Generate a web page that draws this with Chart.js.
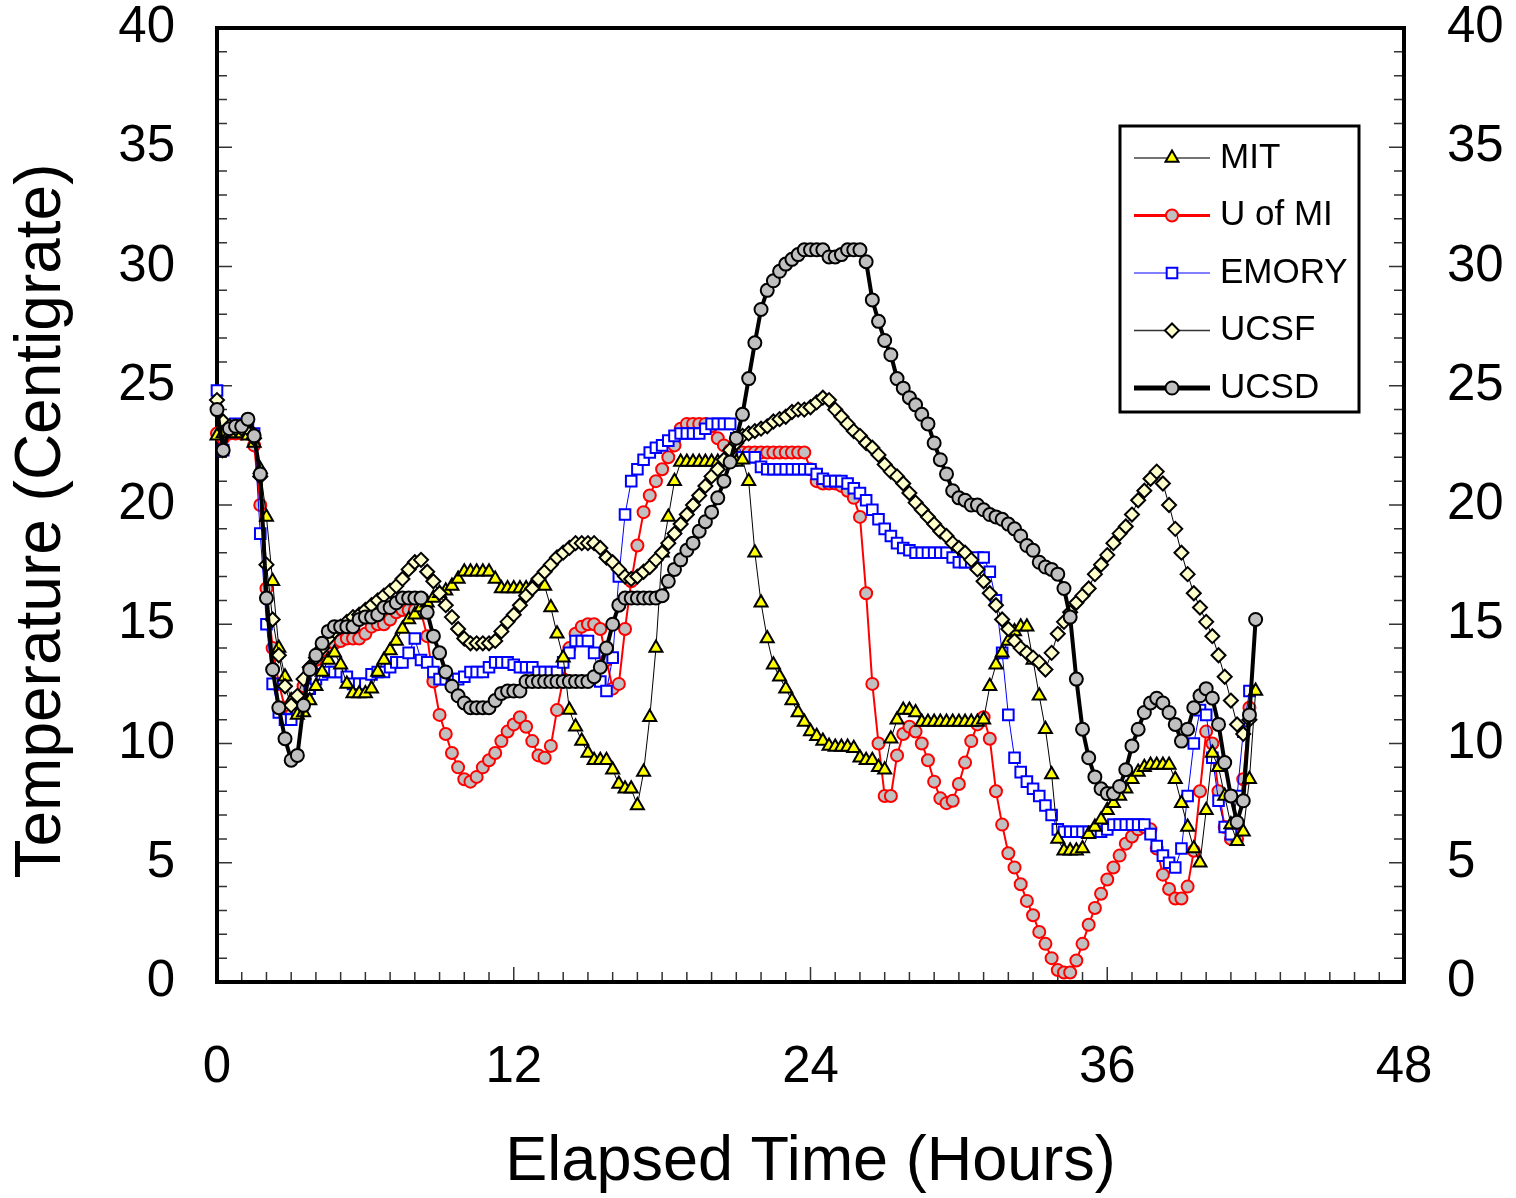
<!DOCTYPE html>
<html>
<head>
<meta charset="utf-8">
<title>Temperature</title>
<script src="https://cdn.jsdelivr.net/npm/chart.js@4/dist/chart.umd.min.js"></script>
<style>
  body { margin: 0; background: #fff; }
</style>
</head>
<body>
<canvas id="myChart" width="1516" height="1198"></canvas>
<script>
// readings every quarter hour, starting at 0 h
const STEP = 0.25;

const xTicks = [0, 12, 24, 36, 48];
const yTicks = [0, 5, 10, 15, 20, 25, 30, 35, 40];

const mit = [
  22.9, 23.0, 23.0, 23.0,  23.0, 22.9, 22.6, 21.5,  19.5, 16.8, 14.0, 12.8,
  11.8, 11.2, 11.3, 11.8,  12.4, 13.0, 13.5, 13.8,  13.3, 12.5, 12.1, 12.1,
  12.1, 12.3, 13.0, 13.5,  13.9, 14.3, 14.8, 15.2,  15.4, 15.7, 15.9, 16.1,
  16.3, 16.4, 16.6, 16.9,  17.2, 17.2, 17.2, 17.2,  17.2, 16.9, 16.5, 16.5,
  16.5, 16.5, 16.5, 16.6,  16.8, 16.6, 15.7, 14.6,  13.6, 11.4, 10.7, 10.1,
  9.6, 9.3, 9.3, 9.3,      8.9, 8.3, 8.1, 8.1,      7.4, 8.8, 11.1, 14.0,
  18.0, 19.5, 21.0, 21.8,  21.8, 21.8, 21.8, 21.8,  21.8, 21.8, 21.8, 21.8,
  21.8, 21.9, 21.0, 18.0,  15.9, 14.4, 13.3, 12.8,  12.3, 11.8, 11.3, 10.9,
  10.5, 10.3, 10.1, 9.9,   9.85, 9.85, 9.85, 9.8,   9.4, 9.3, 9.3, 9.0,
  8.9, 10.2, 11.0, 11.4,   11.4, 11.3, 10.9, 10.9,  10.9, 10.9, 10.9, 10.9,
  10.9, 10.9, 10.9, 10.9,  11.0, 12.4, 13.3, 13.8,  14.3, 14.7, 14.9, 14.9,
  13.5, 12.0, 10.6, 8.7,   6.0, 5.5, 5.5, 5.5,      5.6, 6.2, 6.5, 6.8,
  7.2, 7.5, 7.8, 8.1,      8.5, 8.8, 9.0, 9.1,      9.1, 9.1, 9.1, 8.5,
  7.5, 6.5, 5.6, 5.0,      7.2, 9.6, 9.0, 7.8,      6.6, 5.9, 6.3, 8.5,
  12.2
];

const uOfMi = [
  23.0, 22.8, 23.0, 23.0,  23.0, 23.0, 22.5, 20.0,  16.5, 14.0, 12.5, 11.5,
  11.2, 11.6, 12.4, 13.0,  13.5, 13.9, 14.1, 14.2,  14.3, 14.4, 14.4, 14.4,
  14.6, 14.9, 15.0, 15.0,  15.2, 15.5, 15.6, 15.6,  15.6, 15.5, 14.5, 12.6,
  11.2, 10.4, 9.6, 9.0,    8.5, 8.4, 8.6, 9.0,      9.3, 9.6, 10.1, 10.5,
  10.8, 11.1, 10.7, 10.1,  9.5, 9.4, 9.9, 11.4,     12.7, 14.0, 14.6, 14.9,
  15.0, 15.0, 14.8, 13.5,  12.3, 12.5, 14.8, 16.8,  18.3, 19.7, 20.4, 21.0,
  21.5, 22.0, 22.5, 23.2,  23.4, 23.4, 23.4, 23.4,  23.3, 22.8, 22.5, 22.3,
  22.2, 22.2, 22.2, 22.2,  22.2, 22.2, 22.2, 22.2,  22.2, 22.2, 22.2, 22.2,
  21.5, 21.0, 20.9, 20.9,  20.9, 20.8, 20.6, 20.3,  19.5, 16.3, 12.5, 10.0,
  7.8, 7.8, 9.5, 10.4,     10.7, 10.5, 10.0, 9.3,   8.4, 7.7, 7.5, 7.6,
  8.3, 9.2, 10.1, 10.8,    11.1, 10.2, 8.0, 6.6,    5.4, 4.8, 4.1, 3.4,
  2.8, 2.1, 1.6, 1.0,      0.5, 0.4, 0.4, 0.9,      1.6, 2.4, 3.1, 3.7,
  4.3, 4.8, 5.3, 5.8,      6.1, 6.4, 6.5, 6.4,      5.6, 4.5, 3.9, 3.5,
  3.5, 4.0, 5.5, 8.0,      10.5, 10.0, 8.0, 6.5,    6.0, 6.0, 8.5, 11.5
];

const emory = [
  24.8, 22.3, 23.3, 23.4,  23.3, 23.3, 23.0, 18.8,  15.0, 12.5, 11.3, 11.0,
  11.0, 11.3, 11.8, 12.3,  12.7, 12.9, 13.0, 13.0,  13.0, 12.8, 12.5, 12.5,
  12.5, 12.9, 13.0, 13.0,  13.2, 13.4, 13.4, 13.8,  14.4, 13.5, 13.4, 13.0,
  12.7, 12.7, 12.7, 12.7,  12.8, 13.0, 13.0, 13.0,  13.2, 13.4, 13.4, 13.4,
  13.3, 13.2, 13.2, 13.2,  13.0, 13.0, 13.0, 13.0,  13.4, 13.8, 14.3, 14.3,
  14.3, 13.8, 12.6, 12.2,  13.6, 17.0, 19.6, 21.0,  21.5, 21.9, 22.2, 22.4,
  22.5, 22.7, 22.9, 23.0,  23.0, 23.0, 23.0, 23.2,  23.4, 23.4, 23.4, 23.4,
  22.8, 22.0, 22.0, 22.0,  21.6, 21.5, 21.5, 21.5,  21.5, 21.5, 21.5, 21.5,
  21.5, 21.3, 21.1, 21.0,  21.0, 21.0, 20.9, 20.7,  20.5, 20.2, 19.8, 19.4,
  19.0, 18.7, 18.4, 18.2,  18.1, 18.0, 18.0, 18.0,  18.0, 18.0, 18.0, 17.8,
  17.6, 17.6, 17.6, 17.8,  17.8, 17.2, 16.0, 13.8,  11.2, 9.4, 8.8, 8.4,
  8.1, 7.8, 7.4, 7.0,      6.4, 6.3, 6.3, 6.3,      6.3, 6.3, 6.3, 6.3,
  6.4, 6.6, 6.6, 6.6,      6.6, 6.6, 6.6, 6.2,      5.7, 5.3, 5.0, 4.8,
  5.6, 7.8, 10.0, 11.4,    11.2, 9.4, 7.6, 6.5,     6.2, 7.8, 10.5, 12.2
];

const ucsf = [
  24.4, 23.5, 23.3, 23.2,  23.2, 23.2, 22.8, 21.2,  17.5, 15.2, 13.7, 12.4,
  11.6, 12.0, 12.7, 13.2,  13.6, 14.0, 14.4, 14.7,  14.9, 15.1, 15.3, 15.4,
  15.6, 15.8, 16.0, 16.2,  16.4, 16.6, 16.9, 17.3,  17.6, 17.7, 17.2, 16.8,
  16.3, 15.8, 15.3, 14.8,  14.4, 14.2, 14.2, 14.2,  14.2, 14.3, 14.7, 15.1,
  15.4, 15.8, 16.2, 16.5,  16.9, 17.2, 17.5, 17.8,  18.0, 18.2, 18.4, 18.4,
  18.4, 18.4, 18.2, 17.8,  17.6, 17.3, 17.0, 16.9,  17.0, 17.2, 17.4, 17.7,
  18.0, 18.4, 18.8, 19.2,  19.6, 20.0, 20.4, 20.8,  21.2, 21.5, 21.9, 22.3,
  22.6, 22.9, 23.0, 23.1,  23.2, 23.3, 23.5, 23.6,  23.7, 23.9, 24.0, 24.0,
  24.1, 24.3, 24.5, 24.4,  24.0, 23.7, 23.4, 23.1,  22.9, 22.6, 22.4, 22.1,
  21.7, 21.4, 21.2, 20.9,  20.5, 20.1, 19.8, 19.5,  19.2, 18.9, 18.7, 18.4,
  18.2, 18.0, 17.7, 17.3,  16.8, 16.3, 15.8, 15.2,  14.8, 14.3, 14.0, 13.8,
  13.6, 13.4, 13.1, 13.8,  14.6, 15.1, 15.5, 15.9,  16.2, 16.5, 17.1, 17.5,
  17.9, 18.4, 18.8, 19.1,  19.6, 20.2, 20.6, 21.1,  21.4, 20.9, 20.0, 19.0,
  18.0, 17.1, 16.3, 15.7,  15.1, 14.5, 13.7, 12.8,  11.8, 10.8, 10.4, 11.0
];

const ucsd = [
  24.0, 22.3, 23.2, 23.3,  23.3, 23.6, 22.9, 21.3,  16.1, 13.1, 11.5, 10.2,
  9.3, 9.5, 11.6, 13.1,    13.7, 14.2, 14.7, 14.9,  14.9, 14.9, 14.9, 15.2,
  15.3, 15.3, 15.4, 15.7,  15.7, 15.9, 16.1, 16.1,  16.1, 16.1, 15.5, 14.5,
  13.8, 13.0, 12.4, 12.0,  11.7, 11.5, 11.5, 11.5,  11.5, 11.8, 12.1, 12.2,
  12.2, 12.2, 12.6, 12.6,  12.6, 12.6, 12.6, 12.6,  12.6, 12.6, 12.6, 12.6,
  12.6, 12.8, 13.2, 14.0,  15.0, 15.8, 16.1, 16.1,  16.1, 16.1, 16.1, 16.1,
  16.2, 16.8, 17.3, 17.7,  18.1, 18.4, 18.9, 19.3,  19.7, 20.3, 21.0, 21.8,
  22.8, 23.8, 25.3, 26.8,  28.2, 29.0, 29.4, 29.8,  30.1, 30.3, 30.5, 30.7,
  30.7, 30.7, 30.7, 30.4,  30.4, 30.5, 30.7, 30.7,  30.7, 30.2, 28.6, 27.7,
  26.9, 26.3, 25.3, 24.9,  24.5, 24.2, 23.8, 23.4,  22.6, 21.9, 21.3, 20.6,
  20.3, 20.2, 20.0, 20.0,  19.8, 19.6, 19.5, 19.4,  19.2, 19.0, 18.7, 18.3,
  18.1, 17.6, 17.4, 17.3,  17.1, 16.5, 15.3, 12.7,  10.6, 9.4, 8.6, 8.1,
  7.9, 7.9, 8.2, 8.9,      9.9, 10.6, 11.3, 11.7,   11.9, 11.7, 11.3, 10.8,
  10.1, 10.6, 11.5, 12.0,  12.3, 11.9, 10.8, 9.2,   7.8, 6.7, 7.6, 11.2,
  15.2
];

function toPoints(temps){
    return temps.map((t, i) => ({x: i * STEP, y: t}));
}

const FONT = '"Liberation Sans", Arial, sans-serif';

// frame + inward tick marks, drawn under the data
const framePlugin = {
    id: 'frame',
    beforeDatasetsDraw(chart){
        const {ctx, chartArea: a, scales} = chart;
        const sx = scales.x, sy = scales.y;
        ctx.save();
        ctx.strokeStyle = '#333';
        ctx.lineWidth = 1.5;
        ctx.beginPath();
        for (let h = 1; h < 48; h++) {
            const px = sx.getPixelForValue(h);
            const len = h % 12 === 0 ? 15 : 10;
            ctx.moveTo(px, a.bottom);
            ctx.lineTo(px, a.bottom - len);
        }
        for (let t = 1; t < 40; t++) {
            const py = sy.getPixelForValue(t);
            const len = t % 5 === 0 ? 15 : 10;
            ctx.moveTo(a.left, py);
            ctx.lineTo(a.left + len, py);
            ctx.moveTo(a.right, py);
            ctx.lineTo(a.right - len, py);
        }
        ctx.stroke();
        ctx.lineWidth = 4;
        ctx.strokeStyle = '#000';
        ctx.strokeRect(a.left, a.top, a.right - a.left, a.bottom - a.top);
        ctx.restore();
    },
    afterDraw(chart){
        const {ctx, chartArea: a} = chart;
        ctx.save();
        // y axis title
        ctx.translate(42, 521);
        ctx.rotate(-Math.PI / 2);
        ctx.font = '64px ' + FONT;
        ctx.fillStyle = '#000';
        ctx.textAlign = 'center';
        ctx.textBaseline = 'middle';
        ctx.fillText('Temperature (Centigrate)', 0, 0);
        ctx.restore();

        // legend box
        ctx.save();
        const bx = a.right - 284, by = a.top + 98;
        ctx.fillStyle = '#fff';
        ctx.fillRect(bx, by, 239, 286);
        ctx.lineWidth = 3;
        ctx.strokeStyle = '#000';
        ctx.strokeRect(bx, by, 239, 286);
        chart.data.datasets.forEach((ds, i) => {
            const y = by + 32 + i * 57.5;
            ctx.strokeStyle = ds.legendLine;
            ctx.lineWidth = ds.legendWidth;
            ctx.beginPath();
            ctx.moveTo(bx + 14, y);
            ctx.lineTo(bx + 90, y);
            ctx.stroke();
            ctx.fillStyle = ds.pointBackgroundColor;
            ctx.strokeStyle = ds.pointBorderColor;
            ctx.lineWidth = ds.pointBorderWidth;
            Chart.helpers.drawPoint(ctx, {
                pointStyle: ds.pointStyle, radius: ds.pointRadius,
                borderWidth: ds.pointBorderWidth, rotation: 0
            }, bx + 52, y);
            ctx.fillStyle = '#000';
            ctx.font = '35px ' + FONT;
            ctx.textAlign = 'left';
            ctx.textBaseline = 'middle';
            ctx.fillText(ds.label, bx + 100, y);
        });
        ctx.restore();
    }
};

function makeChart(){
    const ctx = document.getElementById('myChart').getContext('2d');

    const data = {
        datasets: [{
            label: 'MIT',
            data: toPoints(mit),
            borderColor: '#000', borderWidth: 1,
            pointStyle: 'triangle', pointRadius: 7.5,
            pointBackgroundColor: '#ffff00', pointBorderColor: '#000', pointBorderWidth: 2,
            legendLine: '#444', legendWidth: 1.5,
            order: 3
        }, {
            label: 'U of MI',
            data: toPoints(uOfMi),
            borderColor: '#ff0000', borderWidth: 2,
            pointStyle: 'circle', pointRadius: 6,
            pointBackgroundColor: '#c0c0c0', pointBorderColor: '#ff0000', pointBorderWidth: 2,
            legendLine: '#ff0000', legendWidth: 3,
            order: 5
        }, {
            label: 'EMORY',
            data: toPoints(emory),
            borderColor: '#0000ff', borderWidth: 1,
            pointStyle: 'rect', pointRadius: 7.5,
            pointBackgroundColor: '#ffffff', pointBorderColor: '#0000ff', pointBorderWidth: 2,
            legendLine: '#5555ff', legendWidth: 1.5,
            order: 4
        }, {
            label: 'UCSF',
            data: toPoints(ucsf),
            borderColor: '#000', borderWidth: 1,
            pointStyle: 'rectRot', pointRadius: 7,
            pointBackgroundColor: '#ffffcc', pointBorderColor: '#000', pointBorderWidth: 2,
            legendLine: '#333', legendWidth: 1.5,
            order: 2
        }, {
            label: 'UCSD',
            data: toPoints(ucsd),
            borderColor: '#000', borderWidth: 4,
            pointStyle: 'circle', pointRadius: 6.5,
            pointBackgroundColor: '#c0c0c0', pointBorderColor: '#000', pointBorderWidth: 2,
            legendLine: '#000', legendWidth: 5,
            order: 1
        }]
    };

    data.datasets.forEach(ds => {
        ds.tension = 0;
        ds.clip = false;
        ds.fill = false;
        ds.pointHoverRadius = ds.pointRadius;
    });

    const tickFont = {family: FONT, size: 51};
    const noPad = s => { s.paddingTop = 0; s.paddingBottom = 0; s.paddingLeft = 0; s.paddingRight = 0; };

    const config = {
        type: 'line',
        data: data,
        options: {
            responsive: false,
            animation: false,
            devicePixelRatio: 1,
            layout: {padding: {top: 28, left: 0, right: 0, bottom: 0}},
            plugins: {legend: {display: false}, tooltip: {enabled: false}},
            scales: {
                x: {
                    type: 'linear', position: 'bottom', min: 0, max: 48,
                    afterBuildTicks: s => { s.ticks = xTicks.map(v => ({value: v})); },
                    ticks: {font: tickFont, color: '#000', padding: 55, autoSkip: false, maxRotation: 0},
                    grid: {display: false, drawTicks: false},
                    border: {display: false},
                    title: {display: true, text: 'Elapsed Time (Hours)', color: '#000',
                        font: {family: FONT, size: 63, lineHeight: 1}, padding: {top: 0, bottom: 4}},
                    afterFit: s => { s.height = 216; noPad(s); }
                },
                y: {
                    type: 'linear', position: 'left', min: 0, max: 40,
                    afterBuildTicks: s => { s.ticks = yTicks.map(v => ({value: v})); },
                    ticks: {font: tickFont, color: '#000', padding: 42, autoSkip: false},
                    grid: {display: false, drawTicks: false},
                    border: {display: false},
                    afterFit: s => { s.width = 217; noPad(s); }
                },
                y2: {
                    type: 'linear', position: 'right', min: 0, max: 40,
                    afterBuildTicks: s => { s.ticks = yTicks.map(v => ({value: v})); },
                    ticks: {font: tickFont, color: '#000', padding: 43, autoSkip: false},
                    grid: {display: false, drawTicks: false},
                    border: {display: false},
                    afterFit: s => { s.width = 112; noPad(s); }
                }
            }
        },
        plugins: [framePlugin]
    };

    return new Chart(ctx, config);
}

makeChart();
</script>
</body>
</html>
